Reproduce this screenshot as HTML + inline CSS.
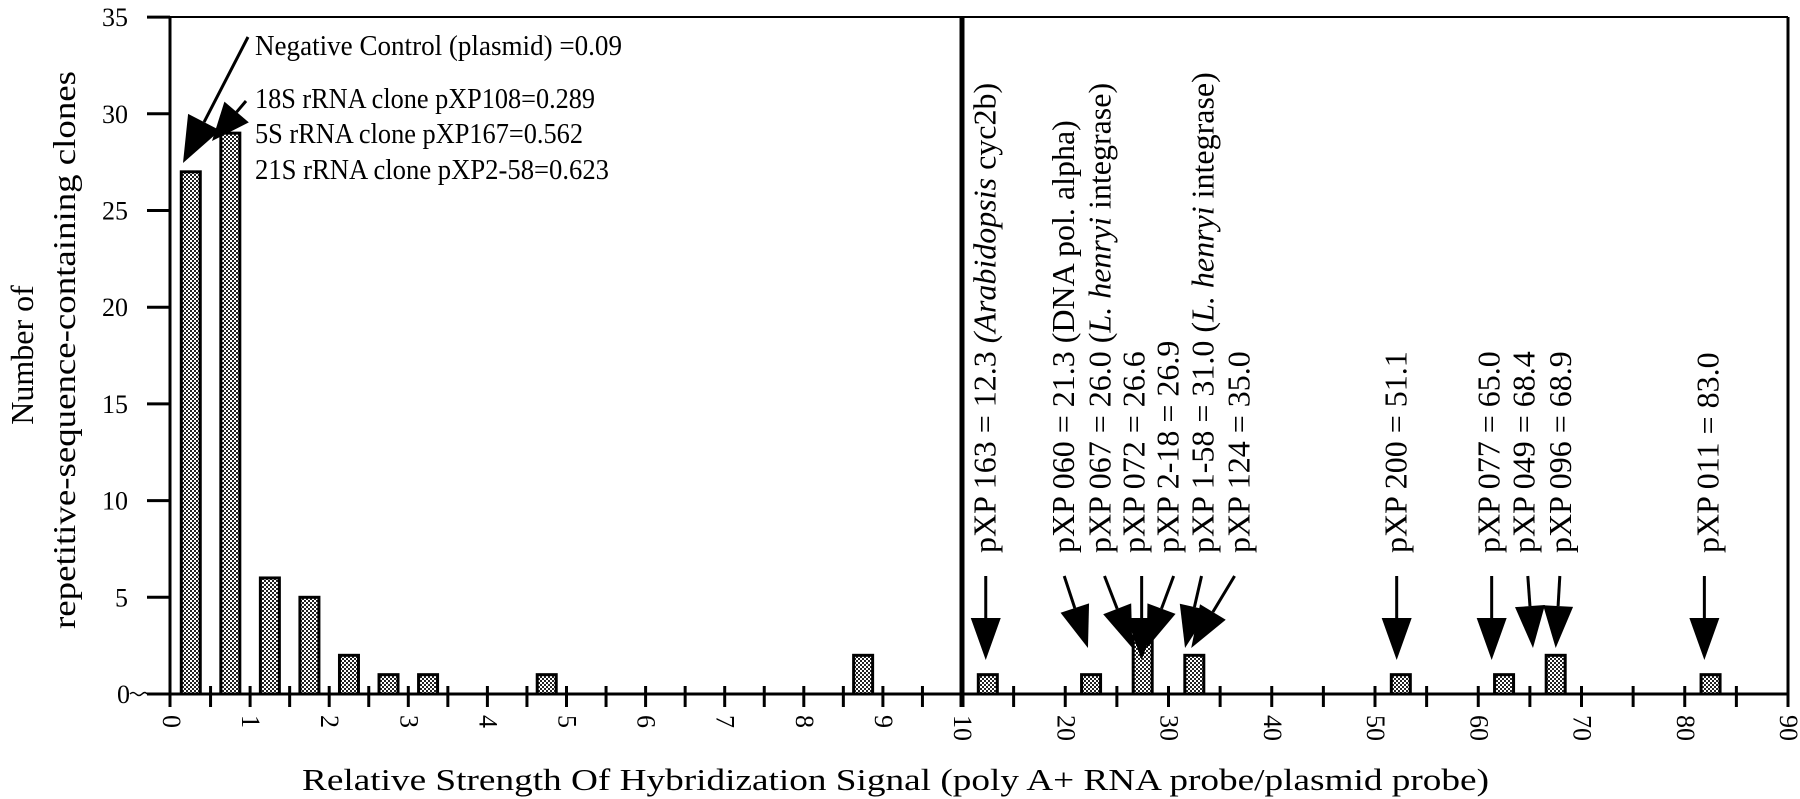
<!DOCTYPE html>
<html><head><meta charset="utf-8"><style>
html,body{margin:0;padding:0;background:#fff;}
svg{display:block;font-family:"Liberation Serif",serif;}
</style></head><body>
<svg id="chart" width="1800" height="799" viewBox="0 0 1800 799" xmlns="http://www.w3.org/2000/svg">
<defs>
<pattern id="chk" width="4" height="4" patternUnits="userSpaceOnUse">
<rect width="4" height="4" fill="#fff"/><rect width="2" height="2" fill="#222"/><rect x="2" y="2" width="2" height="2" fill="#222"/>
</pattern>
</defs>
<g id="frame" stroke="#000" fill="none">
<line x1="147" y1="17" x2="1788" y2="17" stroke-width="2"/>
<line x1="170" y1="17" x2="170" y2="707" stroke-width="3"/>
<line x1="1788" y1="17" x2="1788" y2="707" stroke-width="3"/>
<line x1="962" y1="17" x2="962" y2="707" stroke-width="5"/>
<line x1="147" y1="694" x2="1788" y2="694" stroke-width="3"/>
<path d="M130 694 q3 -3 6 0 q3 3 6 0 q3 -3 5 0" stroke-width="1.5"/>
</g>
<g id="yaxis"></g>
<g id="xaxis"></g>
<g id="bars"></g>
<g id="annot"></g>
<text transform="translate(33,355) rotate(-90)" text-anchor="middle" font-size="32">Number of</text>
<text transform="translate(75,350) rotate(-90)" text-anchor="middle" font-size="32" textLength="558" lengthAdjust="spacingAndGlyphs">repetitive-sequence-containing clones</text>
<text x="302" y="790" font-size="31" textLength="1187" lengthAdjust="spacingAndGlyphs">Relative Strength Of Hybridization Signal (poly A+ RNA probe/plasmid probe)</text>
<g font-size="28">
<text x="255" y="55" textLength="367" lengthAdjust="spacingAndGlyphs">Negative Control (plasmid) =0.09</text>
<text x="255" y="108" textLength="340" lengthAdjust="spacingAndGlyphs">18S rRNA clone pXP108=0.289</text>
<text x="255" y="143" textLength="328" lengthAdjust="spacingAndGlyphs">5S rRNA clone pXP167=0.562</text>
<text x="255" y="179" textLength="354" lengthAdjust="spacingAndGlyphs">21S rRNA clone pXP2-58=0.623</text>
</g>
</svg>
<script>
const NS="http://www.w3.org/2000/svg";
const leftCenters=[0.25,0.75,1.25,1.75,2.25,2.75,3.25,4.75,8.75];
const leftCounts=[27,29,6,5,2,1,1,1,2];
const rightCenters=[12.5,22.5,27.5,32.5,52.5,62.5,67.5,82.5];
const rightCounts=[1,1,3,2,1,1,2,1];
const yTicks=[0,5,10,15,20,25,30,35];
const xTicksLeft=[0,1,2,3,4,5,6,7,8,9,10];
const xTicksRight=[20,30,40,50,60,70,80,90];
const cloneLabels=["pXP 163 = 12.3 |Arabidopsis| cyc2b)","pXP 060 = 21.3  (DNA pol. alpha)","pXP 067 = 26.0 (|L. henryi|  integrase)","pXP 072 = 26.6","pXP 2-18 = 26.9","pXP 1-58 = 31.0 (|L. henryi|  integrase)","pXP 124 = 35.0","pXP 200 = 51.1","pXP 077 = 65.0","pXP 049 = 68.4","pXP 096 = 68.9","pXP 011 = 83.0"];
const cloneLabelPos=[12.3,19.9,23.4,26.7,30.0,33.4,36.9,52.1,61.1,64.5,68.0,82.3];
const arrowTails=[12.3,19.9,23.8,27.4,30.5,33.2,36.4,52.1,61.3,64.8,67.9,81.9];
const arrowTips=[12.3,22.2,26.5,27.4,27.9,31.6,32.2,52.1,61.3,65.3,67.5,81.9];

function X(v){return v<=10?171+v*79.1:962+(v-10)*10.325;}
function Y(v){return 694-v*19.34;}
function el(t,a,p){const e=document.createElementNS(NS,t);for(const k in a)e.setAttribute(k,a[k]);p.appendChild(e);return e;}

const ya=document.getElementById('yaxis');
yTicks.forEach(v=>{
  const t=el('line',{x1:147,x2:170,y1:Y(v),y2:Y(v),stroke:'#000','stroke-width':3},ya);
  
  
  const l=el('text',{x:v==0?130:128,y:Y(v)+9,'text-anchor':'end','font-size':26},ya);
  
  
  l.textContent=v;
});
const xa=document.getElementById('xaxis');
for(let v=0.5;v<10;v+=0.5){
  const t=el('line',{x1:X(v),x2:X(v),y1:686,y2:707,stroke:'#000','stroke-width':3},xa);
  
  
}
for(let v=15;v<90;v+=5){
  const t=el('line',{x1:X(v),x2:X(v),y1:686,y2:707,stroke:'#000','stroke-width':3},xa);
  
  
}
xTicksLeft.concat(xTicksRight).forEach(v=>{
  const l=el('text',{transform:`translate(${X(v)-8},${715}) rotate(90)`,'font-size':26},xa);
  
  
  l.textContent=v;
});
const bg=document.getElementById('bars');
function bar(c,n,w){
  const b=el('rect',{x:X(c)-w/2,y:Y(n),width:w,height:Y(0)-Y(n),fill:'url(#chk)',stroke:'#000','stroke-width':3},bg);
  
  
}
leftCenters.forEach((c,i)=>bar(c,leftCounts[i],19));
rightCenters.forEach((c,i)=>bar(c,rightCounts[i],19));

function arrow(x1,y1,x2,y2,L,W,p){
  const dx=x2-x1,dy=y2-y1,d=Math.hypot(dx,dy),ux=dx/d,uy=dy/d;
  const bx=x2-ux*L,by=y2-uy*L;
  const ln=el('line',{x1:x1,y1:y1,x2:bx,y2:by,stroke:'#000','stroke-width':3},p);
  
  
  const h=el('polygon',{points:`${x2},${y2} ${bx-uy*W/2},${by+ux*W/2} ${bx+uy*W/2},${by-ux*W/2}`,fill:'#000'},p);
  
  
}
const an=document.getElementById('annot');
arrow(248,37,183,163,46,36,an);
arrow(246,101,212,141,38,32,an);
cloneLabels.forEach((s,i)=>{
  const x=X(cloneLabelPos[i]);
  const t=el('text',{transform:`translate(${x+10},553) rotate(-90)`,'font-size':32},an);
  
  
  s.split('|').forEach((part,k)=>{
    const sp=el('tspan',{},t);
    if(k==1&&cloneLabels[i].indexOf('|')>=0)sp.setAttribute('font-style','italic');
    sp.textContent=(k==1&&i==0)?'('+part:part;
  });
  arrow(X(arrowTails[i]),576,X(arrowTips[i]),arrowTips[i]===arrowTails[i]?660:648,42,30,an);
});
</script>
</body></html>
